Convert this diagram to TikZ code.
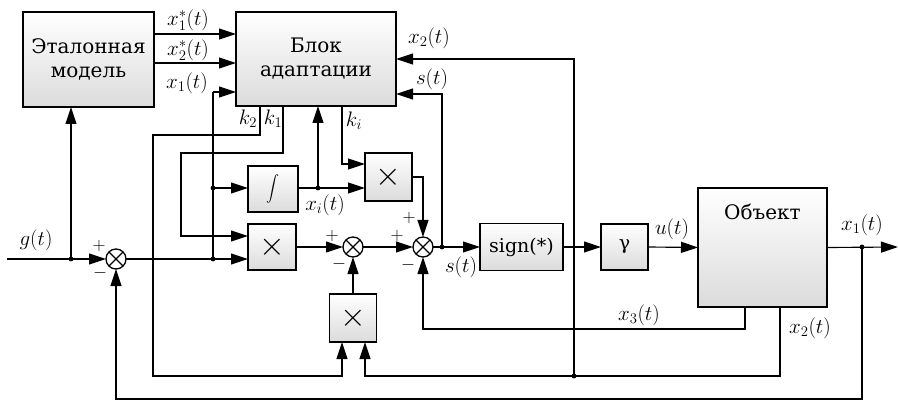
\RequirePackage{fix-cm}
\documentclass[tikz,border=0pt]{standalone}
\usepackage{fontspec}
\setmainfont{DejaVu Serif}
\usetikzlibrary{arrows.meta,calc}
\begin{document}
\begin{tikzpicture}[x=1pt,y=-1pt,
 every node/.style={font=\fontsize{20}{24}\selectfont},
 blk/.style={draw, line width=1.4pt, top color=white, bottom color=gray!28, inner sep=0pt, outer sep=0pt, align=center},
 sumc/.style={circle, draw, line width=1.3pt, minimum size=20pt, inner sep=0pt, outer sep=0pt, fill=white},
 arr/.style={line width=1.15pt, -{Triangle[length=17pt,width=11pt]}},
 ln/.style={line width=1.15pt},
 lab/.style={inner sep=0pt, font=\fontsize{21}{24}\selectfont},
 sgn/.style={inner sep=0pt, font=\fontsize{18}{18}\selectfont},
 mulx/.style={font=\fontsize{33}{33}\selectfont}
]
\useasboundingbox (0,0) rectangle (898,401);

% blocks
\node[blk, minimum width=131pt, minimum height=95pt] (etalon) at (88.5,59.5) {Эталонная\\модель};
\node[blk, minimum width=160pt, minimum height=94pt] (blok) at (316,59) {Блок\\адаптации};
\node[blk, minimum width=50pt, minimum height=46pt] (int) at (273,189) {\scalebox{1.3}{$\displaystyle\int$}};
\node[blk, minimum width=48pt, minimum height=46pt, mulx] (mulA) at (272,247) {$\times$};
\node[blk, minimum width=47pt, minimum height=48pt, mulx] (mulB) at (388.5,177) {$\times$};
\node[blk, minimum width=47pt, minimum height=48pt, mulx] (mulC) at (353,318) {$\times$};
\node[blk, minimum width=83pt, minimum height=47pt, font=\fontsize{19}{24}\selectfont] (sign) at (521.5,247) {sign(*)};
\node[blk, minimum width=47pt, minimum height=46pt, font=\fontsize{19}{24}\selectfont] (gam) at (624.5,247) {γ};
\node[blk, minimum width=129pt, minimum height=119pt,
      label={[anchor=center,yshift=-24pt]north:Объект}] (obj) at (762.5,247.5) {};

% summing junctions
\node[sumc] (s1) at (116,259) {};
\node[sumc] (s2) at (353,247) {};
\node[sumc] (s3) at (423,247) {};
\foreach \s in {s1,s2,s3}{
  \draw[line width=1.1pt] (\s.north west) -- (\s.south east) (\s.north east) -- (\s.south west);
}

% coordinates
\coordinate (in) at (7,259);
\coordinate (dg) at (71,259);
\coordinate (dx) at (213,259);
\coordinate (di) at (213,188);
\coordinate (cx1) at (213,92);
\coordinate (dxi) at (318,188);
\coordinate (ki) at (342,164);
\coordinate (k1a) at (283,153);
\coordinate (k1b) at (181,236);
\coordinate (k2a) at (260,135);
\coordinate (k2b) at (153,376);
\coordinate (k2c) at (342,376);
\coordinate (ds) at (442,247);
\coordinate (sa) at (442,94);
\coordinate (out) at (898,247);
\coordinate (dx1) at (862,247);
\coordinate (fb1) at (862,399);
\coordinate (x2a) at (780,376);
\coordinate (x2b) at (365,376);
\coordinate (dx2) at (574,376);
\coordinate (x2c) at (574,59);
\coordinate (x3a) at (745,329);
\coordinate (ya) at (0,34);
\coordinate (yb) at (0,63);

% connectors
\draw[arr] (in) -- (s1.west);
\draw[arr] (dg) -- (dg |- etalon.south);
\draw[ln] (s1.east) -- (dx);
\draw[arr] (dx) -- (dx -| mulA.west);
\draw[ln] (dx) -- (cx1);
\draw[arr] (cx1) -- (cx1 -| blok.west);
\draw[arr] (di) -- (di -| int.west);
\draw[ln] (int.east |- di) -- (dxi);
\draw[arr] (dxi) -- (dxi -| mulB.west);
\draw[arr] (dxi) -- (dxi |- blok.south);
\draw[arr] (blok.south -| ki) -- (ki) -- (ki -| mulB.west);
\draw[arr] (blok.south -| k1a) -- (k1a) -| (k1b) -- (k1b -| mulA.west);
\draw[arr] (blok.south -| k2a) -- (k2a) -| (k2b) -- (k2c) -- (k2c |- mulC.south);
\draw[arr] (mulA.east) -- (s2.west);
\draw[arr] (mulC.north) -- (s2.south);
\draw[arr] (s2.east) -- (s3.west);
\draw[arr] (mulB.east) -| (s3.north);
\draw[arr] (s3.east) -- (sign.west);
\draw[arr] (ds) -- (sa) -- (sa -| blok.east);
\draw[arr] (sign.east) -- (gam.west);
\draw[arr] (gam.east) -- (obj.west);
\draw[arr] (obj.east) -- (out);
\draw[arr] (dx1) -- (fb1) -| (s1.south);
\draw[arr] (obj.south -| x2a) -- (x2a) -- (x2b) -- (x2b |- mulC.south);
\draw[arr] (dx2) -- (x2c) -- (x2c -| blok.east);
\draw[arr] (obj.south -| x3a) -- (x3a) -| (s3.south);
\draw[arr] (etalon.east |- ya) -- (blok.west |- ya);
\draw[arr] (etalon.east |- yb) -- (blok.west |- yb);

% junction dots
\foreach \p in {dg,dx,di,dxi,ds,dx1,dx2}{ \fill (\p) circle (2.4pt); }

% labels
\node[lab] (lx1s) at (188,20) {$x_1^{*}(t)$};
\node[lab] (lx2s) at (188,50) {$x_2^{*}(t)$};
\node[lab] (lx1a) at (187,83) {$x_1(t)$};
\node[lab] (lx2r) at (429,38) {$x_2(t)$};
\node[lab] (lsr) at (432,79) {$s(t)$};
\node[lab] (lk2) at (248,119) {$k_2$};
\node[lab] (lk1) at (273,119) {$k_1$};
\node[lab] (lki) at (354,121) {$k_i$};
\node[lab] (lxi) at (325,205) {$x_i(t)$};
\node[lab] (lg) at (36,240) {$g(t)$};
\node[lab] (lst) at (461,267) {$s(t)$};
\node[lab] (lu) at (672,229) {$u(t)$};
\node[lab] (lx1o) at (862,225) {$x_1(t)$};
\node[lab] (lx2o) at (810,328) {$x_2(t)$};
\node[lab] (lx3) at (639,315) {$x_3(t)$};

% signs
\node[sgn] (p1) at (99,246) {$+$};
\node[sgn] (m1) at (100,273) {$-$};
\node[sgn] (p2) at (332,236) {$+$};
\node[sgn] (m2) at (339,264) {$-$};
\node[sgn] (p3) at (397,236) {$+$};
\node[sgn] (p3t) at (409,218) {$+$};
\node[sgn] (m3) at (408,265) {$-$};
\end{tikzpicture}
\end{document}
